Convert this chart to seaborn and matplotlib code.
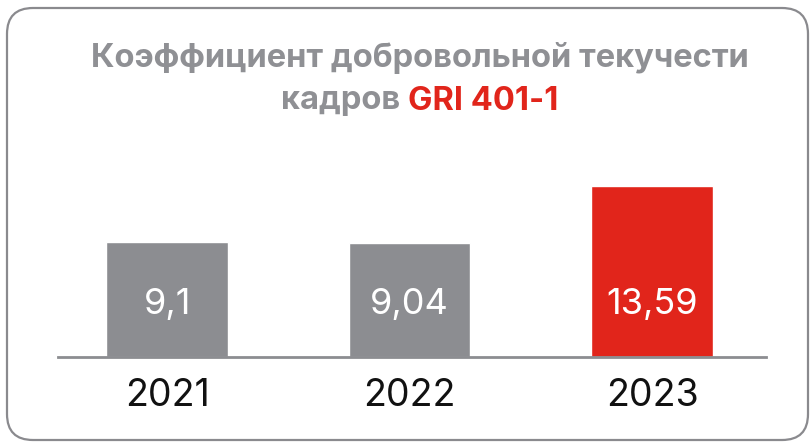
import matplotlib
matplotlib.use("Agg")
import matplotlib.pyplot as plt
import seaborn as sns
import pandas as pd
from matplotlib.patches import FancyBboxPatch
from matplotlib.transforms import IdentityTransform

years = ["2021", "2022", "2023"]
values = [9.1, 9.04, 13.59]
value_labels = ["9,1", "9,04", "13,59"]
title_line1 = "Коэффициент добровольной текучести"
title_line2_a = "кадров "
title_line2_b = "GRI 401-1"

GRAY = "#8c8d91"
RED = "#e1251b"
TITLE_GRAY = "#8f9094"

sns.set_theme(style="white")
plt.rcParams["font.family"] = ["Inter", "DejaVu Sans"]

W, H, DPI = 810, 442, 100
fig = plt.figure(figsize=(W / DPI, H / DPI), dpi=DPI)

x0, x1 = 58, 766
base_y = 357
px_per_unit = 12.6
ymax = 15
ax_h = ymax * px_per_unit
ax = fig.add_axes([x0 / W, (H - base_y) / H, (x1 - x0) / W, ax_h / H])

df = pd.DataFrame({"year": years, "value": values})
sns.barplot(data=df, x="year", y="value", hue="year",
            palette=[GRAY, GRAY, RED], width=0.5, legend=False,
            saturation=1, ax=ax)
ax.set_xlim(-0.45, 2.47)
ax.set_ylim(0, ymax)
for s in ["top", "right", "left"]:
    ax.spines[s].set_visible(False)
ax.spines["bottom"].set_color(GRAY)
ax.spines["bottom"].set_linewidth(2)
ax.set_yticks([])
ax.set_xlabel("")
ax.set_ylabel("")
ax.tick_params(axis="x", length=0, pad=15, labelsize=27, labelcolor="#111111")

label_y = (base_y - 304) / px_per_unit
for i, lab in enumerate(value_labels):
    ax.text(i, label_y, lab, ha="center", va="center", color="white",
            fontsize=26, fontweight="normal")

frame = FancyBboxPatch((7, H - 440), 801, 432,
                       boxstyle="round,pad=0,rounding_size=26",
                       transform=IdentityTransform(), fill=False,
                       edgecolor="#8a8a8e", linewidth=1.6)
fig.patches.append(frame)

TS = 23.5
fig.text(420 / W, 1 - 58 / H, title_line1, ha="center", va="center",
         fontsize=TS, fontweight="bold", color=TITLE_GRAY)
fig.canvas.draw()
r = fig.canvas.get_renderer()
ta = fig.text(0, 1 - 101 / H, title_line2_a, ha="left", va="center",
              fontsize=TS, fontweight="bold", color=TITLE_GRAY)
tb = fig.text(0, 1 - 101 / H, title_line2_b, ha="left", va="center",
              fontsize=TS, fontweight="bold", color=RED)
wa = ta.get_window_extent(r).width
wb = tb.get_window_extent(r).width
start = 420 - (wa + wb) / 2
ta.set_x(start / W)
tb.set_x((start + wa) / W)

fig.savefig("out.png", dpi=DPI)
